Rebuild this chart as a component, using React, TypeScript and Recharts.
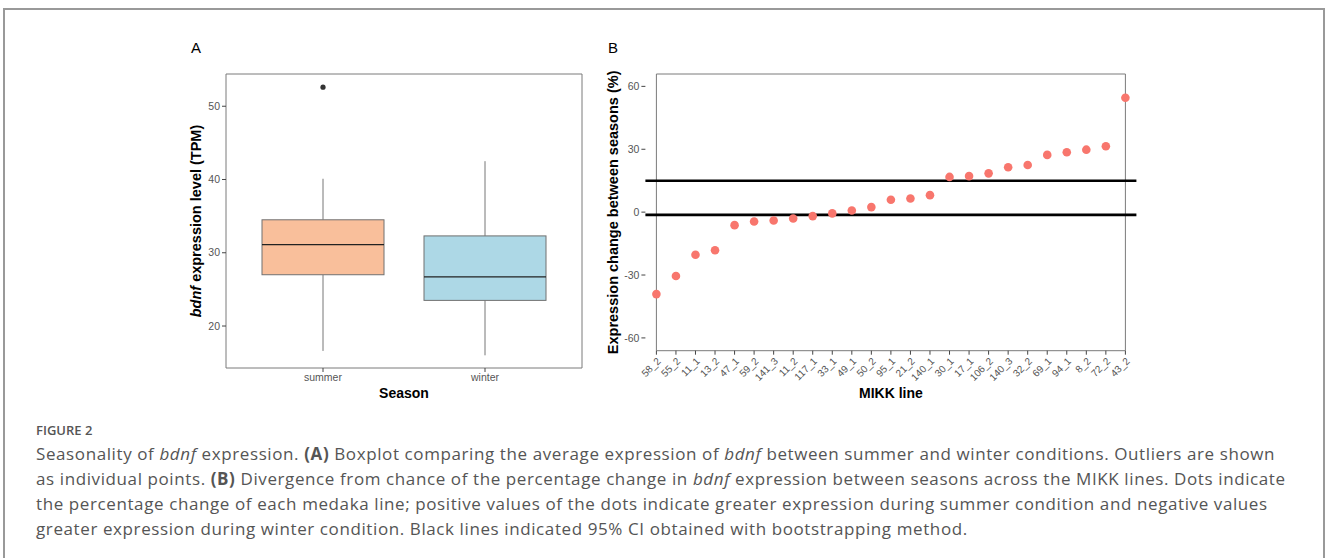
import React from "react";
import {
  ComposedChart,
  Bar,
  Scatter,
  XAxis,
  YAxis,
  ReferenceArea,
  ReferenceLine,
  Label,
} from "recharts";

// panel A: boxplot of bdnf TPM by season
const seasons = ["summer", "winter"];
const lowerWhisker = [16.6, 16.0];
const lowerQuartile = [27.0, 23.5];
const medians = [31.1, 26.7];
const upperQuartile = [34.5, 32.3];
const upperWhisker = [40.1, 42.5];
const outlierSeasons = ["summer"];
const outlierValues = [52.6];
const tpmTicks = [20, 30, 40, 50];

// panel B: % change per MIKK line
const mikkLines = [
  "58_2", "55_2", "11_1", "13_2", "47_1", "59_2", "141_3", "11_2", "117_1",
  "33_1", "49_1", "50_2", "95_1", "21_2", "140_1", "30_1", "17_1", "106_2",
  "140_3", "32_2", "69_1", "94_1", "8_2", "72_2", "43_2",
];
const expressionChange = [
  -39.1, -30.5, -20.3, -18.2, -6.2, -4.5, -4.0, -3.0, -1.9, -0.6, 0.8, 2.4,
  5.9, 6.5, 8.1, 16.8, 17.2, 18.5, 21.4, 22.5, 27.3, 28.6, 29.8, 31.4, 54.6,
];
const ciBounds = [15.0, -1.3];
const changeTicks = [-60, -30, 0, 30, 60];

const BOX_COLORS: Record<string, string> = {
  summer: "#F9BF9B",
  winter: "#ADD8E6",
};

const FONT = "'Liberation Sans', Arial, sans-serif";
const AXIS_TEXT = "#555555";
const BORDER = { stroke: "#7a7a7a", strokeWidth: 1 };

const seasonData = seasons.map((s, i) => ({
  season: s,
  box: [lowerQuartile[i], upperQuartile[i]],
  lo: lowerWhisker[i],
  q1: lowerQuartile[i],
  med: medians[i],
  q3: upperQuartile[i],
  hi: upperWhisker[i],
}));

const outlierData = outlierSeasons.map((s, i) => ({
  season: s,
  value: outlierValues[i],
}));

const mikkData = mikkLines.map((l, i) => ({
  line: l,
  change: expressionChange[i],
}));

const A_DOMAIN: [number, number] = [14.27, 54.4];
const B_DOMAIN: [number, number] = [-66.1, 65.9];

function BoxShape(props: any) {
  const { x, y, width, height, payload } = props;
  const top = Math.min(y, y + height);
  const h = Math.abs(height);
  const k = h / (payload.q3 - payload.q1);
  const py = (v: number) => top + (payload.q3 - v) * k;
  const cx = x + width / 2;
  return (
    <g>
      <line x1={cx} x2={cx} y1={py(payload.hi)} y2={top} stroke="#777" strokeWidth={1} />
      <line x1={cx} x2={cx} y1={top + h} y2={py(payload.lo)} stroke="#777" strokeWidth={1} />
      <rect
        x={x}
        y={top}
        width={width}
        height={h}
        fill={BOX_COLORS[payload.season]}
        stroke="#707070"
        strokeWidth={1}
      />
      <line
        x1={x}
        x2={x + width}
        y1={py(payload.med)}
        y2={py(payload.med)}
        stroke="#222"
        strokeWidth={1.2}
      />
    </g>
  );
}

function RotatedTick(props: any) {
  const { x, y, payload } = props;
  return (
    <text
      x={x}
      y={y}
      dy="0.71em"
      transform={`rotate(-45 ${x} ${y})`}
      textAnchor="end"
      fontSize={10}
      fill={AXIS_TEXT}
      fontFamily={FONT}
    >
      {payload.value}
    </text>
  );
}

function BoxPanel() {
  return (
    <ComposedChart
      width={600}
      height={410}
      data={seasonData}
      margin={{ top: 73, right: 17, bottom: 0, left: 0 }}
      style={{ fontFamily: FONT }}
    >
      <XAxis
        dataKey="season"
        type="category"
        allowDuplicatedCategory={false}
        height={42}
        padding={{ left: 16, right: 16 }}
        axisLine={BORDER}
        tickLine={{ stroke: "#444" }}
        tickSize={4}
        tickMargin={2}
        tick={{ fontSize: 10.5, fill: AXIS_TEXT, fontFamily: FONT }}
      >
        <Label
          content={(p: any) => {
            const vb = p.viewBox;
            return (
              <text
                x={vb.x + vb.width / 2}
                y={398}
                textAnchor="middle"
                fontSize={14}
                fontWeight="bold"
                fontFamily={FONT}
                fill="#000"
              >
                Season
              </text>
            );
          }}
        />
      </XAxis>
      <XAxis
        xAxisId="top"
        orientation="top"
        dataKey="season"
        allowDuplicatedCategory={false}
        height={1}
        axisLine={BORDER}
        tick={false}
        tickLine={false}
      />
      <YAxis
        type="number"
        domain={A_DOMAIN}
        ticks={tpmTicks}
        allowDataOverflow
        width={226}
        axisLine={BORDER}
        tickLine={{ stroke: "#444" }}
        tickSize={4}
        tickMargin={2}
        tick={{ fontSize: 10.5, fill: AXIS_TEXT, fontFamily: FONT }}
      >
        <Label
          content={(p: any) => {
            const vb = p.viewBox;
            const cy = vb.y + vb.height / 2;
            return (
              <text
                x={196}
                y={cy}
                transform={`rotate(-90 196 ${cy})`}
                textAnchor="middle"
                dominantBaseline="central"
                fontSize={14.5}
                fontWeight="bold"
                fontFamily={FONT}
                fill="#000"
              >
                <tspan fontStyle="italic">bdnf</tspan> expression level (TPM)
              </text>
            );
          }}
        />
      </YAxis>
      <YAxis
        yAxisId="right"
        orientation="right"
        type="number"
        domain={A_DOMAIN}
        width={1}
        axisLine={BORDER}
        tick={false}
        tickLine={false}
      />
      <Bar dataKey="box" barSize={122} shape={BoxShape} isAnimationActive={false} />
      <Scatter
        data={outlierData}
        dataKey="value"
        fill="#333"
        isAnimationActive={false}
        shape={(p: any) => <circle cx={p.cx} cy={p.cy} r={2.6} fill="#333" />}
      />
    </ComposedChart>
  );
}

function ChangePanel() {
  return (
    <ComposedChart
      width={560}
      height={410}
      data={mikkData}
      margin={{ top: 74, right: 13.6, bottom: 0, left: 0 }}
      style={{ fontFamily: FONT }}
    >
      <XAxis
        dataKey="line"
        type="category"
        height={59.3}
        padding={{ left: 11, right: 11 }}
        interval={0}
        axisLine={false}
        tickLine={{ stroke: "#444" }}
        tickSize={4}
        tickMargin={2}
        tick={<RotatedTick />}
      >
        <Label
          content={(p: any) => {
            const vb = p.viewBox;
            return (
              <text
                x={vb.x + vb.width / 2}
                y={398}
                textAnchor="middle"
                fontSize={14}
                fontWeight="bold"
                fontFamily={FONT}
                fill="#000"
              >
                MIKK line
              </text>
            );
          }}
        />
      </XAxis>
      <YAxis
        type="number"
        domain={B_DOMAIN}
        ticks={changeTicks}
        allowDataOverflow
        width={55.4}
        axisLine={false}
        tickLine={{ stroke: "#444" }}
        tickSize={4}
        tickMargin={2}
        tick={{ fontSize: 10.5, fill: AXIS_TEXT, fontFamily: FONT }}
      >
        <Label
          content={(p: any) => {
            const vb = p.viewBox;
            const cy = vb.y + vb.height / 2;
            return (
              <text
                x={23}
                y={cy}
                transform={`rotate(-90 23 ${cy})`}
                textAnchor="middle"
                dominantBaseline="central"
                fontSize={14.5}
                fontWeight="bold"
                fontFamily={FONT}
                fill="#000"
              >
                Expression change between seasons (%)
              </text>
            );
          }}
        />
      </YAxis>
      <ReferenceArea
        y1={B_DOMAIN[0]}
        y2={B_DOMAIN[1]}
        fill="none"
        stroke="#7a7a7a"
        strokeWidth={1}
        ifOverflow="visible"
      />
      <Scatter
        data={mikkData}
        dataKey="change"
        fill="#F8766D"
        isAnimationActive={false}
        shape={(p: any) => <circle cx={p.cx} cy={p.cy} r={4.3} fill="#F8766D" />}
      />
      {ciBounds.map((v) => (
        <ReferenceLine key={v} y={v} stroke="#000" strokeWidth={2.6} />
      ))}
    </ComposedChart>
  );
}

const captionLines = [
  <>
    Seasonality of <i>bdnf</i> expression. <b>(A)</b> Boxplot comparing the average
    expression of <i>bdnf</i> between summer and winter conditions. Outliers are shown
  </>,
  <>
    as individual points. <b>(B)</b> Divergence from chance of the percentage change in{" "}
    <i>bdnf</i> expression between seasons across the MIKK lines. Dots indicate
  </>,
  <>
    the percentage change of each medaka line; positive values of the dots indicate
    greater expression during summer condition and negative values
  </>,
  <>
    greater expression during winter condition. Black lines indicated 95% CI obtained
    with bootstrapping method.
  </>,
];

export default function App() {
  return (
    <div
      style={{
        position: "fixed",
        left: 0,
        top: 0,
        width: 1328,
        height: 558,
        background: "#fff",
        overflow: "hidden",
      }}
    >
      <div
        style={{
          position: "absolute",
          left: 3,
          top: 8,
          width: 1322,
          height: 560,
          borderTop: "2px solid #999",
          borderLeft: "2px solid #999",
          borderRight: "2px solid #999",
          boxSizing: "border-box",
        }}
      />
      <div style={{ position: "absolute", left: 0, top: 0 }}>
        <BoxPanel />
      </div>
      <div style={{ position: "absolute", left: 590, top: 0 }}>
        <ChangePanel />
      </div>
      <div
        style={{
          position: "absolute",
          left: 191,
          top: 39,
          fontFamily: FONT,
          fontSize: 15,
          color: "#000",
        }}
      >
        A
      </div>
      <div
        style={{
          position: "absolute",
          left: 608,
          top: 39,
          fontFamily: FONT,
          fontSize: 15,
          color: "#000",
        }}
      >
        B
      </div>
      <div
        style={{
          position: "absolute",
          left: 36,
          top: 421,
          fontFamily: "'Open Sans', sans-serif",
          fontSize: 13,
          fontWeight: 600,
          color: "#555",
          lineHeight: "18px",
        }}
      >
        FIGURE 2
      </div>
      {captionLines.map((ln, i) => (
        <div
          key={i}
          style={{
            position: "absolute",
            left: 36,
            top: 442 + i * 25,
            whiteSpace: "nowrap",
            fontFamily: "'Open Sans', sans-serif",
            fontSize: 17,
            letterSpacing: 0.6,
            color: "#555",
            lineHeight: "24px",
          }}
        >
          {ln}
        </div>
      ))}
    </div>
  );
}
